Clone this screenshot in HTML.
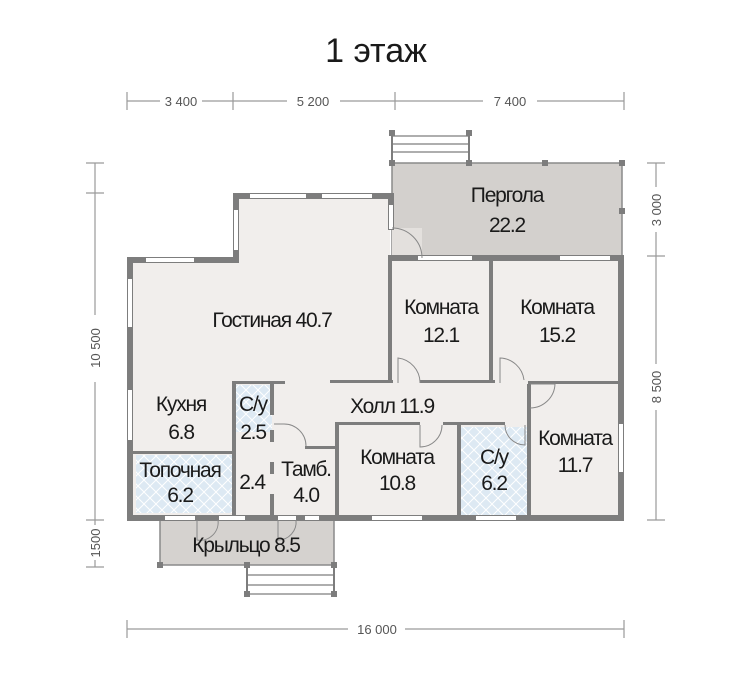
<!DOCTYPE html>
<html><head><meta charset="utf-8"><style>
html,body{margin:0;padding:0;background:#fff}
svg{display:block}
text{font-family:"Liberation Sans","DejaVu Sans",sans-serif;fill:#1a1a1a}
.lbl{font-size:21px;text-anchor:middle;letter-spacing:-1.2px}
.dim{font-size:13px;fill:#555;text-anchor:middle}
</style></head><body>
<svg width="750" height="688" viewBox="0 0 750 688" xmlns="http://www.w3.org/2000/svg">
<defs>
<pattern id="hat" width="12" height="12" patternUnits="userSpaceOnUse">
<rect width="12" height="12" fill="#dde9f3"/>
<path d="M0 0L12 12M12 0L0 12" stroke="#fff" stroke-width="1"/>
</pattern>
</defs>
<rect width="750" height="688" fill="#fff"/>
<text x="376" y="62" style="font-size:34px;text-anchor:middle">1 этаж</text>

<g stroke="#9a9a9a" stroke-width="1.2" fill="none">
<line x1="127" y1="101" x2="160" y2="101"/><line x1="202" y1="101" x2="233" y2="101"/>
<line x1="233" y1="101" x2="287" y2="101"/><line x1="340" y1="101" x2="395" y2="101"/>
<line x1="395" y1="101" x2="483" y2="101"/><line x1="537" y1="101" x2="624" y2="101"/>
<line x1="127" y1="92" x2="127" y2="110"/><line x1="233" y1="92" x2="233" y2="110"/>
<line x1="395" y1="92" x2="395" y2="110"/><line x1="624" y1="92" x2="624" y2="110"/>
<line x1="127" y1="629" x2="348" y2="629"/><line x1="405" y1="629" x2="624" y2="629"/>
<line x1="127" y1="620" x2="127" y2="638"/><line x1="624" y1="620" x2="624" y2="638"/>
<line x1="95" y1="163" x2="95" y2="315"/><line x1="95" y1="382" x2="95" y2="520"/>
<line x1="95" y1="520" x2="95" y2="525"/><line x1="95" y1="560" x2="95" y2="567"/>
<line x1="86" y1="163" x2="104" y2="163"/><line x1="86" y1="193" x2="104" y2="193"/>
<line x1="86" y1="520" x2="104" y2="520"/><line x1="86" y1="567" x2="104" y2="567"/>
<line x1="656" y1="163" x2="656" y2="187"/><line x1="656" y1="232" x2="656" y2="364"/>
<line x1="656" y1="410" x2="656" y2="520"/>
<line x1="647" y1="163" x2="665" y2="163"/><line x1="647" y1="256" x2="665" y2="256"/>
<line x1="647" y1="520" x2="665" y2="520"/>
</g>
<text class="dim" x="181" y="106">3 400</text>
<text class="dim" x="313" y="106">5 200</text>
<text class="dim" x="510" y="106">7 400</text>
<text class="dim" x="377" y="634">16 000</text>
<text class="dim" transform="translate(100,348) rotate(-90)">10 500</text>
<text class="dim" transform="translate(100,543) rotate(-90)">1500</text>
<text class="dim" transform="translate(661,210) rotate(-90)">3 000</text>
<text class="dim" transform="translate(661,387) rotate(-90)">8 500</text>

<g stroke="#7d7d7d" stroke-width="1.2">
<line x1="392" y1="133" x2="392" y2="163" stroke-width="2"/><line x1="469" y1="133" x2="469" y2="163" stroke-width="2"/>
<line x1="392" y1="136" x2="469" y2="136"/><line x1="392" y1="144" x2="469" y2="144"/>
<line x1="392" y1="152" x2="469" y2="152"/>
</g>
<rect x="392" y="163" width="230" height="94" fill="#d3d0cd" stroke="#8a8a8a" stroke-width="1.5"/>
<g fill="#7d7d7d"><rect x="389" y="130" width="6" height="6"/><rect x="466" y="130" width="6" height="6"/>
<rect x="389" y="160" width="6" height="6"/><rect x="466" y="160" width="6" height="6"/>
<rect x="542" y="160" width="6" height="6"/><rect x="619" y="160" width="6" height="6"/><rect x="619" y="208" width="6" height="6"/></g>

<rect x="160" y="517" width="174" height="48" fill="#d5d2cf" stroke="#8a8a8a" stroke-width="1.5"/>
<g stroke="#7d7d7d" stroke-width="1.2">
<line x1="247" y1="565" x2="247" y2="595" stroke-width="2"/><line x1="334" y1="565" x2="334" y2="595" stroke-width="2"/>
<line x1="247" y1="575" x2="334" y2="575"/><line x1="247" y1="585" x2="334" y2="585"/><line x1="247" y1="594" x2="334" y2="594"/>
</g>
<g fill="#7d7d7d"><rect x="157" y="562" width="6" height="6"/><rect x="244" y="562" width="6" height="6"/><rect x="331" y="562" width="6" height="6"/>
<rect x="244" y="591" width="6" height="6"/><rect x="331" y="591" width="6" height="6"/></g>

<path d="M130 260 H236 V196 H390 V260 H621 V516 H130 Z" fill="#f1eeec"/>
<rect x="136" y="455" width="96" height="58" fill="url(#hat)"/>
<rect x="236" y="385" width="36" height="47" fill="url(#hat)"/>
<rect x="461" y="427" width="68" height="88" fill="url(#hat)"/>
<rect x="392" y="228" width="30" height="30" fill="#e3e0dd"/>

<g fill="#7d7d7d">
<rect x="127" y="257" width="110" height="6"/>
<rect x="233" y="193" width="6" height="70"/>
<rect x="233" y="193" width="160" height="6"/>
<rect x="388" y="193" width="6" height="37"/>
<rect x="388" y="255" width="236" height="6"/>
<rect x="618" y="255" width="6" height="266"/>
<rect x="127" y="257" width="6" height="264"/>
<rect x="127" y="515" width="497" height="6"/>
<rect x="388" y="255" width="4" height="128"/>
<rect x="489" y="258" width="4" height="122"/>
<rect x="330" y="380" width="63" height="3"/>
<rect x="420" y="380" width="75" height="3"/>
<rect x="528" y="381" width="92" height="3"/>
<rect x="232" y="381" width="4" height="137"/>
<rect x="232" y="381" width="53" height="3"/>
<rect x="270" y="381" width="4" height="34"/>
<rect x="270" y="430" width="4" height="12"/>
<rect x="270" y="462" width="4" height="12"/>
<rect x="270" y="494" width="4" height="24"/>
<rect x="133" y="451" width="100" height="3"/>
<rect x="305" y="446" width="34" height="3"/>
<rect x="335" y="422" width="4" height="96"/>
<rect x="335" y="422" width="85" height="3"/>
<rect x="443" y="422" width="62" height="3"/>
<rect x="457" y="422" width="4" height="96"/>
<rect x="527" y="384" width="4" height="134"/>
</g>
<g fill="#fff">
<rect x="146" y="258" width="48" height="4"/>
<rect x="128" y="279" width="4" height="48"/><rect x="128" y="390" width="4" height="50"/>
<rect x="234" y="210" width="4" height="40"/>
<rect x="250" y="194" width="56" height="4"/><rect x="322" y="194" width="50" height="4"/>
<rect x="389" y="205" width="4" height="24"/>
<rect x="418" y="256" width="54" height="4"/><rect x="560" y="256" width="50" height="4"/>
<rect x="619" y="424" width="4" height="48"/>
<rect x="165" y="516" width="30" height="4"/><rect x="305" y="516" width="14" height="4"/>
<rect x="372" y="516" width="50" height="4"/><rect x="476" y="516" width="40" height="4"/>
<rect x="219" y="516" width="26" height="4"/><rect x="278" y="516" width="18" height="4"/>
</g>
<g fill="none" stroke="#888" stroke-width="1">
<path d="M392 228 A30 30 0 0 1 422 258"/>
<path d="M398 383 V358 A25 25 0 0 1 420 383"/>
<path d="M500 383 V358 A25 25 0 0 1 524 380"/>
<path d="M530 384 H555 A25 25 0 0 1 530 408"/>
<path d="M420 425 V447 A22 22 0 0 0 442 425"/>
<path d="M505 425 A20 20 0 0 0 525 445 V425"/>
<path d="M274 424 H284 A22 22 0 0 1 306 446"/>
<path d="M197 520 V540 A18 18 0 0 0 218 520"/>
<path d="M278 520 V540 A18 18 0 0 0 296 520"/>
</g>

<text class="lbl" x="507" y="202">Пергола</text>
<text class="lbl" x="507" y="232">22.2</text>
<text class="lbl" x="272" y="327">Гостиная 40.7</text>
<text class="lbl" x="441" y="314">Комната</text>
<text class="lbl" x="441" y="342">12.1</text>
<text class="lbl" x="557" y="314">Комната</text>
<text class="lbl" x="557" y="342">15.2</text>
<text class="lbl" x="392" y="413">Холл 11.9</text>
<text class="lbl" x="181" y="411">Кухня</text>
<text class="lbl" x="181" y="439">6.8</text>
<text class="lbl" x="253" y="411">С/у</text>
<text class="lbl" x="253" y="439">2.5</text>
<text class="lbl" x="180" y="477">Топочная</text>
<text class="lbl" x="180" y="502">6.2</text>
<text class="lbl" x="252" y="489">2.4</text>
<text class="lbl" x="306" y="476">Тамб.</text>
<text class="lbl" x="306" y="502">4.0</text>
<text class="lbl" x="397" y="464">Комната</text>
<text class="lbl" x="397" y="490">10.8</text>
<text class="lbl" x="494" y="464">С/у</text>
<text class="lbl" x="494" y="490">6.2</text>
<text class="lbl" x="575" y="445">Комната</text>
<text class="lbl" x="575" y="472">11.7</text>
<text class="lbl" x="246" y="552">Крыльцо 8.5</text>
</svg>
</body></html>
